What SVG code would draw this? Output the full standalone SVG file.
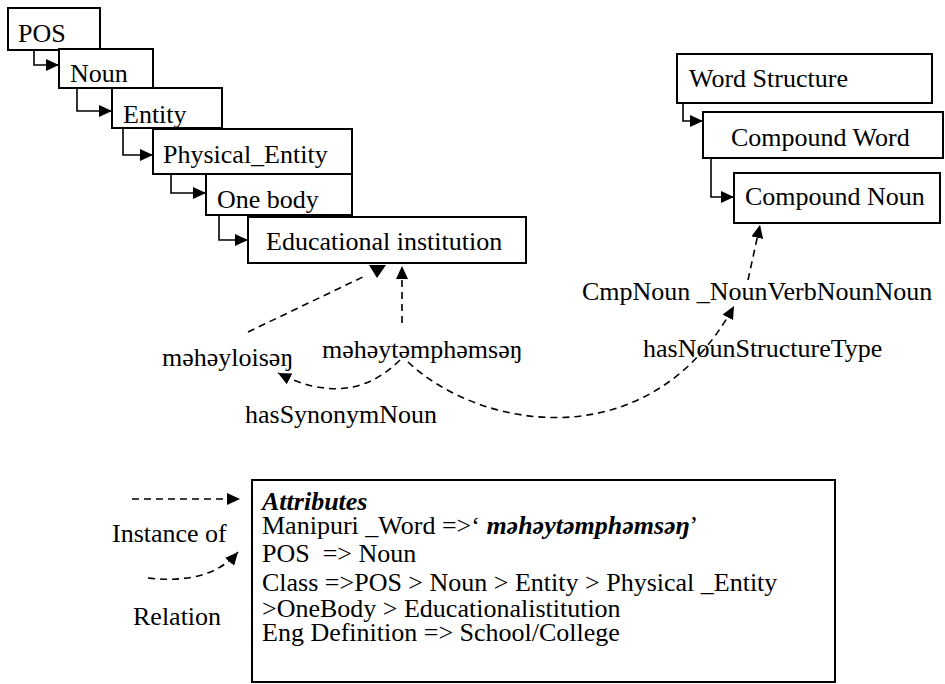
<svg xmlns="http://www.w3.org/2000/svg" width="945" height="684" viewBox="0 0 945 684">
<style>
  text { font-family: "Liberation Serif", "Times New Roman", serif; font-size: 26px; fill: #000; }
  .box { fill: #fff; stroke: #000; stroke-width: 2; }
  .solid { fill: none; stroke: #000; stroke-width: 1.6; }
  .dash { fill: none; stroke: #000; stroke-width: 1.6; stroke-dasharray: 7 5; }
  .bi { font-weight: bold; font-style: italic; }
</style>
<defs>
  <marker id="ah" markerUnits="userSpaceOnUse" markerWidth="14" markerHeight="12" refX="13" refY="6" orient="auto">
    <path d="M0,0 L13,6 L0,12 z" fill="#000"/>
  </marker>
</defs>
<rect x="0" y="0" width="945" height="684" fill="#fff"/>

<g id="node-pos"><rect class="box" x="8" y="8" width="92" height="42"/><text x="18" y="42">POS</text></g>
<g id="node-noun"><rect class="box" x="59" y="49" width="94" height="39"/><text x="70" y="82">Noun</text></g>
<g id="node-entity"><rect class="box" x="112" y="88" width="110" height="40"/><text x="123" y="123">Entity</text></g>
<g id="node-physical"><rect class="box" x="153" y="129" width="199" height="45"/><text x="163" y="163">Physical_Entity</text></g>
<g id="node-onebody"><rect class="box" x="206" y="174" width="146" height="41"/><text x="217" y="208">One body</text></g>
<g id="node-edu"><rect class="box" x="248" y="217" width="278" height="46"/><text x="266" y="250">Educational institution</text></g>

<g id="node-wordstructure"><rect class="box" x="677" y="54" width="255" height="49"/><text x="689" y="87">Word Structure</text></g>
<g id="node-compoundword"><rect class="box" x="703" y="112" width="240" height="46"/><text x="731" y="146">Compound Word</text></g>
<g id="node-compoundnoun"><rect class="box" x="734" y="173" width="206" height="50"/><text x="745" y="205">Compound Noun</text></g>

<g id="node-attributes">
  <rect class="box" x="252" y="480" width="583" height="202"/>
  <text x="262" y="510" class="bi">Attributes</text>
  <text x="262" y="534">Manipuri _Word =&gt;‘ <tspan class="bi">məhəytəmphəmsəŋ</tspan>’</text>
  <text x="262" y="562" xml:space="preserve">POS  =&gt; Noun</text>
  <text x="262" y="591">Class =&gt;POS &gt; Noun &gt; Entity &gt; Physical _Entity</text>
  <text x="262" y="617">&gt;OneBody &gt; Educationalistitution</text>
  <text x="262" y="641">Eng Definition =&gt; School/College</text>
</g>

<g id="labels">
  <text x="162" y="366">məhəyloisəŋ</text>
  <text x="322" y="358">məhəytəmphəmsəŋ</text>
  <text x="245" y="423">hasSynonymNoun</text>
  <text x="582" y="300">CmpNoun _NounVerbNounNoun</text>
  <text x="643" y="357">hasNounStructureType</text>
  <text x="112" y="542">Instance of</text>
  <text x="133" y="625">Relation</text>
</g>

<g id="connectors">
  <path class="solid" d="M34,50 V65 H59" marker-end="url(#ah)"/>
  <path class="solid" d="M77,88 V111 H112" marker-end="url(#ah)"/>
  <path class="solid" d="M123,128 V155 H153" marker-end="url(#ah)"/>
  <path class="solid" d="M171,174 V193 H206" marker-end="url(#ah)"/>
  <path class="solid" d="M219,215 V240 H248" marker-end="url(#ah)"/>
  <path class="solid" d="M683,103 V121 H703" marker-end="url(#ah)"/>
  <path class="solid" d="M711,158 V197 H734" marker-end="url(#ah)"/>

  <path class="dash" d="M248,332 L367,275"/>
  <polygon points="369,265 386,265 377,278" fill="#000"/>
  <path class="dash" d="M402,323 V266" marker-end="url(#ah)"/>
  <path class="dash" d="M400,360 Q350,410 278,373" marker-end="url(#ah)"/>
  <path class="dash" d="M408,362 C480,430 650,460 734,306" marker-end="url(#ah)"/>
  <path class="dash" d="M748,280 L760,225" marker-end="url(#ah)"/>

  <path class="dash" d="M132,499 H240" marker-end="url(#ah)"/>
  <path class="dash" d="M148,578 Q210,585 238,552" marker-end="url(#ah)"/>
</g>
</svg>
